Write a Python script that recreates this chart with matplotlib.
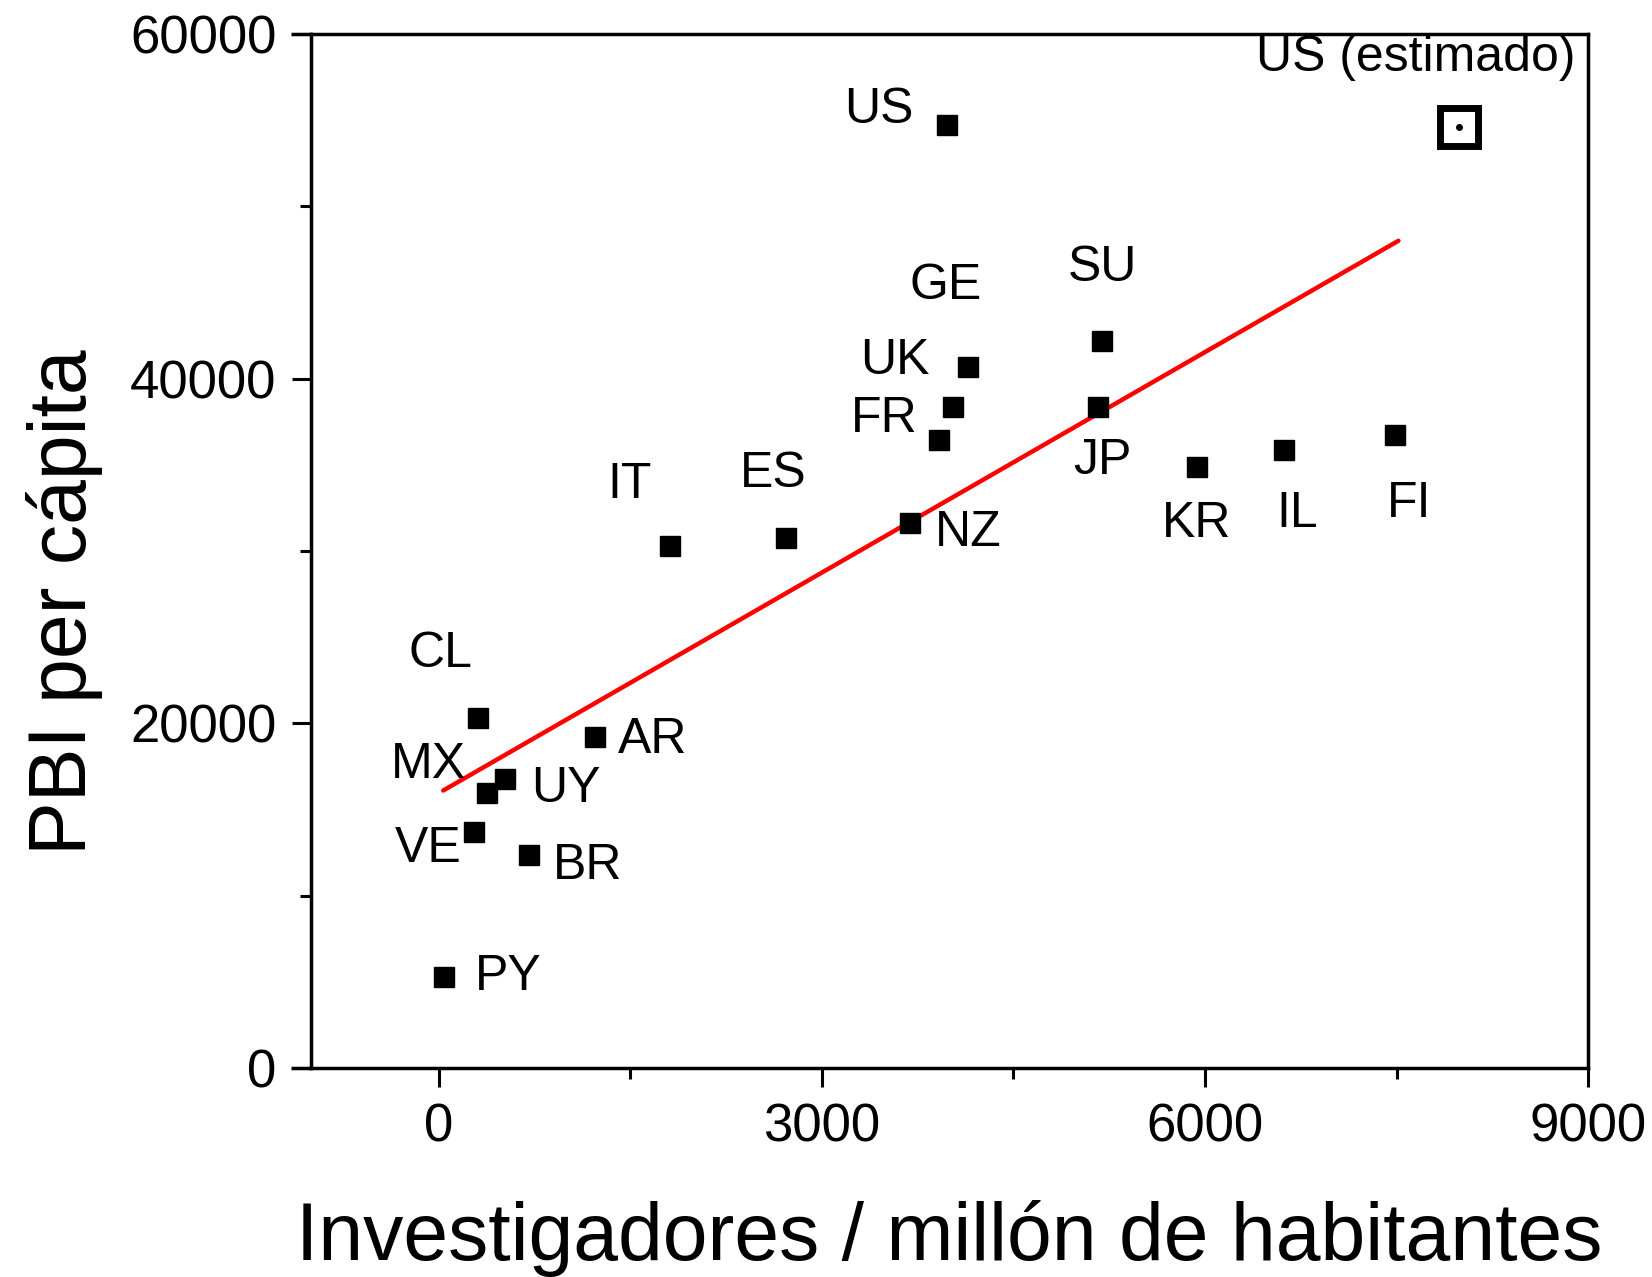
import numpy as np
import matplotlib
matplotlib.use("Agg")
import matplotlib.pyplot as plt

plt.rcParams['font.family'] = ['Liberation Sans', 'DejaVu Sans']

# data
countries = ["US", "SU", "GE", "UK", "FR", "NZ", "JP", "KR", "IL", "FI",
             "IT", "ES", "CL", "AR", "UY", "MX", "VE", "BR", "PY"]
investigadores = [3980, 5190, 4145, 4030, 3920, 3690, 5165, 5935, 6615, 7490,
                  1810, 2720, 305, 1225, 520, 375, 275, 705, 40]
pbi = [54700, 42200, 40700, 38350, 36450, 31600, 38350, 34850, 35850, 36750,
       30300, 30750, 20300, 19200, 16750, 15950, 13700, 12350, 5250]

us_est_x = [7990]
us_est_y = [54600]

fit_x = [35, 7515]
fit_y = [16100, 48000]

# label offsets (points) from each marker
offsets = {"US": (-49, -11), "SU": (1, -52), "GE": (-16, -58), "UK": (-42, -33),
           "FR": (-40, -15), "NZ": (42, 7), "JP": (3, 39), "KR": (0, 41),
           "IL": (10, 46), "FI": (10, 50), "IT": (-29, -44), "ES": (-9, -46),
           "CL": (-27, -46), "AR": (41, 2), "UY": (44, 7), "MX": (-42, -20),
           "VE": (-33, 12), "BR": (42, 8), "PY": (46, 0)}

fig = plt.figure(figsize=(16.52, 12.77), dpi=100)
ax = fig.add_axes([0.1883, 0.1637, 0.7730, 0.8097])

ax.plot(fit_x, fit_y, color="red", lw=3.2, solid_capstyle="round", zorder=2)
ax.plot(investigadores, pbi, "s", color="black", ms=15, zorder=3)
ax.plot(us_est_x, us_est_y, "s", mfc="white", mec="black", ms=27, mew=5, zorder=3)
ax.plot(us_est_x, us_est_y, "o", color="black", ms=4, zorder=4)

for name, x, y in zip(countries, investigadores, pbi):
    dx, dy = offsets[name]
    ax.annotate(name, (x, y), xytext=(dx, -dy), textcoords="offset points",
                ha="center", va="center", fontsize=36)
ax.annotate("US (estimado)", (us_est_x[0], us_est_y[0]), xytext=(-31, 50),
            textcoords="offset points", ha="center", va="center", fontsize=36)

ax.set_xlim(-1000, 9000)
ax.set_ylim(0, 60000)
ax.set_xticks([0, 3000, 6000, 9000])
ax.set_xticks([1500, 4500, 7500], minor=True)
ax.set_yticks([0, 20000, 40000, 60000])
ax.set_yticks([10000, 30000, 50000], minor=True)

ax.tick_params(which="major", length=14, width=2.2, labelsize=38, pad=11)
ax.tick_params(which="minor", length=8, width=2.2)
ax.tick_params(top=False, right=False)
for s in ax.spines.values():
    s.set_linewidth(2.5)

# top and bottom frame lines run a bit past the left axis
for yy in (0, 1):
    ax.plot([-0.016, 0], [yy, yy], transform=ax.transAxes, color="black",
            lw=2.5, clip_on=False, solid_capstyle="butt")

ax.set_xlabel("Investigadores / millón de habitantes", fontsize=58, labelpad=34)
ax.set_ylabel("PBI per cápita", fontsize=58)
ax.yaxis.set_label_coords(-0.163, 0.45)

fig.savefig("out.png", dpi=100)
